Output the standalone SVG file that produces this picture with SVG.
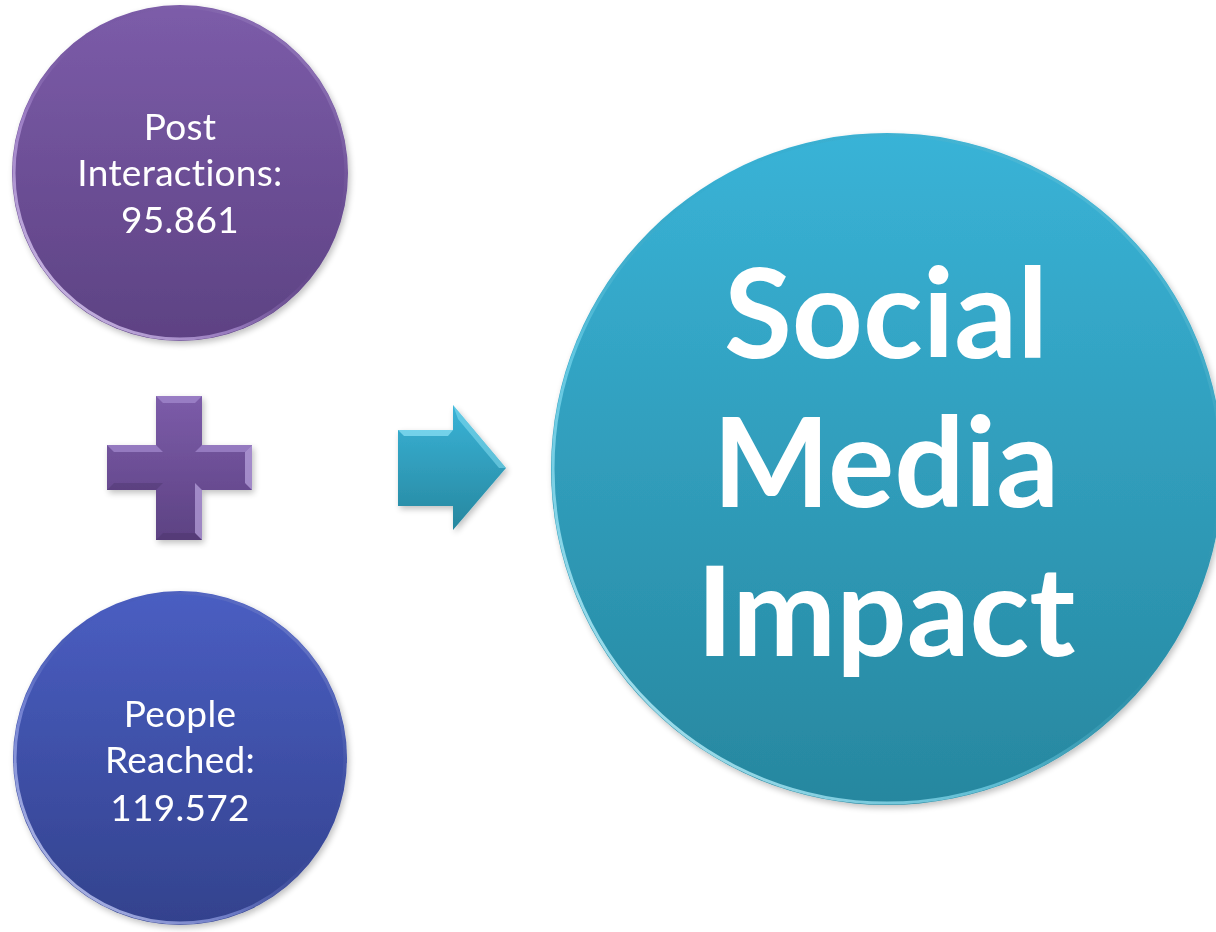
<svg xmlns="http://www.w3.org/2000/svg" width="1216" height="932" viewBox="0 0 1216 932">
<defs>
<linearGradient id="gPurple" x1="0" y1="0" x2="0" y2="1"><stop offset="0" stop-color="#7C5CA9"/><stop offset="1" stop-color="#5D4283"/></linearGradient>
<linearGradient id="gBlue" x1="0" y1="0" x2="0" y2="1"><stop offset="0" stop-color="#4A5EC2"/><stop offset="1" stop-color="#33428D"/></linearGradient>
<linearGradient id="gTeal" x1="0" y1="0" x2="0" y2="1"><stop offset="0" stop-color="#39B3D7"/><stop offset="1" stop-color="#27879F"/></linearGradient>
<linearGradient id="rimP" x1="0" y1="1" x2="1" y2="0"><stop offset="0" stop-color="#F0E6FF" stop-opacity="0.95"/><stop offset="0.35" stop-color="#B99BE0" stop-opacity="0.6"/><stop offset="0.6" stop-color="#5D4283" stop-opacity="0"/><stop offset="1" stop-color="#C9B3EC" stop-opacity="0.7"/></linearGradient>
<linearGradient id="rimB" x1="0" y1="1" x2="1" y2="0"><stop offset="0" stop-color="#E6EAFF" stop-opacity="0.95"/><stop offset="0.35" stop-color="#8E9BE6" stop-opacity="0.6"/><stop offset="0.6" stop-color="#33428D" stop-opacity="0"/><stop offset="1" stop-color="#AAB5F2" stop-opacity="0.7"/></linearGradient>
<linearGradient id="rimT" x1="0" y1="1" x2="1" y2="0"><stop offset="0" stop-color="#DDFAFF" stop-opacity="0.95"/><stop offset="0.35" stop-color="#7FDDF3" stop-opacity="0.6"/><stop offset="0.6" stop-color="#27879F" stop-opacity="0"/><stop offset="1" stop-color="#8CE6FA" stop-opacity="0.7"/></linearGradient>
<filter id="sh" x="-10%" y="-10%" width="130%" height="130%"><feGaussianBlur in="SourceAlpha" stdDeviation="3"/><feOffset dx="2" dy="3"/><feComponentTransfer><feFuncA type="linear" slope="0.25"/></feComponentTransfer><feMerge><feMergeNode/><feMergeNode in="SourceGraphic"/></feMerge></filter>
</defs>
<style>
.small{font-family:Lato,"Open Sans","Liberation Sans",sans-serif;font-size:37px;fill:#FFFFFF;text-anchor:middle;font-variant-ligatures:none;font-feature-settings:"liga" 0,"clig" 0,"dlig" 0;letter-spacing:0.3px}
.big{font-family:Lato,"Open Sans","Liberation Sans",sans-serif;font-size:124px;font-weight:bold;fill:#FFFFFF;text-anchor:middle;font-variant-ligatures:none}
.rim{fill:none;stroke-width:3}
</style>
<rect width="1216" height="932" fill="#FFFFFF"/>
<g id="post-interactions" filter="url(#sh)">
<circle cx="180" cy="173" r="168" fill="url(#gPurple)"/>
<circle cx="180" cy="173" r="166" class="rim" stroke="url(#rimP)"/>
<text class="small" x="180" y="140">Post</text>
<text class="small" x="180" y="186">Interactions:</text>
<text class="small" x="180" y="233">95.861</text>
</g>
<g id="people-reached" filter="url(#sh)">
<circle cx="180" cy="758" r="167" fill="url(#gBlue)"/>
<circle cx="180" cy="758" r="165" class="rim" stroke="url(#rimB)"/>
<text class="small" x="180" y="727">People</text>
<text class="small" x="180" y="773">Reached:</text>
<text class="small" x="180" y="821">119.572</text>
</g>
<g id="plus" filter="url(#sh)">
<path d="M156,396 H202 V445 H252 V490 H202 V540 H156 V490 H107 V445 H156 Z" fill="url(#gPurple)"/>
<path d="M156,396 H202 L195,403 H163 Z M107,445 H156 L163,452 H114 Z M202,445 H252 L245,452 H195 Z" fill="#A58BD0" opacity="0.7"/>
<path d="M252,445 V490 L245,483 V452 Z M202,490 V540 L195,533 V483 Z" fill="#C8B4EC" opacity="0.6"/>
<path d="M107,490 H156 L163,483 H114 Z M156,540 H202 L195,533 H163 Z" fill="#3E2A5E" opacity="0.3"/>
</g>
<g id="connectors" filter="url(#sh)">
<path d="M398,430 H453 V405 L506,468 L453,530 V506 H398 Z" fill="url(#gTeal)"/>
<path d="M398,430 H453 L448,436 H404 Z" fill="#8FE3F6" opacity="0.7"/>
<path d="M453,405 L506,468 L499,468 L458,419 Z" fill="#8FE3F6" opacity="0.5"/>
</g>
<g id="social-media-impact" filter="url(#sh)">
<circle cx="887" cy="469" r="336" fill="url(#gTeal)"/>
<circle cx="887" cy="469" r="334" class="rim" stroke="url(#rimT)" stroke-width="4"/>
<text class="big" x="886" y="358">Social</text>
<text class="big" x="886" y="507">Media</text>
<text class="big" x="886" y="656">Impact</text>
</g>
</svg>
